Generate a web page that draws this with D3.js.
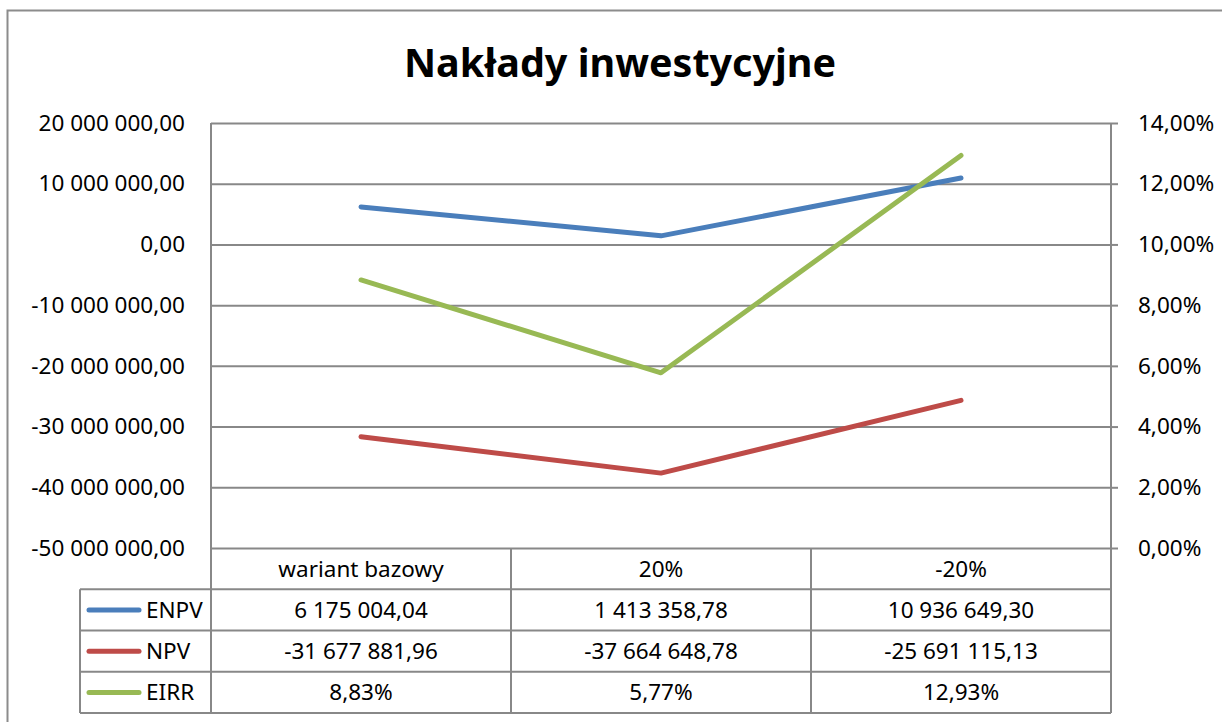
<!DOCTYPE html>
<html>
<head>
<meta charset="utf-8">
<script src="https://cdn.jsdelivr.net/npm/d3@7"></script>
<style>
  body { margin: 0; background: #fff; }
  text { font-family: "Noto Sans", "Open Sans", sans-serif; fill: #000; }
</style>
</head>
<body>
<div id="chart"></div>
<script>
// data
var categories = ["wariant bazowy", "20%", "-20%"];
var enpv = [6175004.04, 1413358.78, 10936649.30];
var npv = [-31677881.96, -37664648.78, -25691115.13];
var eirr = [0.0883, 0.0577, 0.1293];
var seriesNames = ["ENPV", "NPV", "EIRR"];
var seriesColors = ["#4a7ebb", "#be4b48", "#98b954"];
var leftTicks = [20e6, 10e6, 0, -10e6, -20e6, -30e6, -40e6, -50e6];
var rightTicks = [0, 0.02, 0.04, 0.06, 0.08, 0.10, 0.12, 0.14];

var W = 1222, H = 722;
var plot = {left: 211, right: 1111, top: 123, bottom: 548};
var tableBottom = 713, legendLeft = 80;
var gridColor = "#888";
var fs = "22.5px";

var pl = d3.formatLocale({decimal: ",", thousands: "\u00a0", grouping: [3], currency: ["", ""], minus: "-"});
var fmtNum = pl.format(",.2f");
var fmtPct = pl.format(".2%");

var svg = d3.select("#chart").append("svg")
  .attr("width", W)
  .attr("height", H);

// chart border
svg.append("rect")
  .attr("x", 7.5).attr("y", 10.5)
  .attr("width", 1240).attr("height", 740)
  .attr("fill", "none")
  .attr("stroke", "#8c8c8c")
  .attr("stroke-width", 2);

svg.append("text")
  .attr("x", 620).attr("y", 77)
  .attr("text-anchor", "middle")
  .style("font-size", "39.5px")
  .style("font-weight", "bold")
  .text("Nakłady inwestycyjne");

var x = d3.scaleBand().domain(categories).range([plot.left, plot.right]);
var cx = function(c) { return x(c) + x.bandwidth() / 2; };
var yL = d3.scaleLinear().domain([-50e6, 20e6]).range([plot.bottom, plot.top]);
var yR = d3.scaleLinear().domain([0, 0.14]).range([plot.bottom, plot.top]);

// left axis + gridlines
var gl = svg.append("g")
  .attr("transform", "translate(" + plot.left + ",0)")
  .call(d3.axisLeft(yL).tickValues(leftTicks).tickFormat(fmtNum)
    .tickSize(-(plot.right - plot.left)).tickPadding(26));
gl.select(".domain").remove();
gl.selectAll(".tick line").attr("stroke", gridColor).attr("stroke-width", 2).attr("x1", 0);
gl.selectAll(".tick line").attr("x2", plot.right - plot.left);
gl.selectAll(".tick text").style("font-size", fs).attr("fill", "#000");

// right axis
var gr = svg.append("g")
  .attr("transform", "translate(" + plot.right + ",0)")
  .call(d3.axisRight(yR).tickValues(rightTicks).tickFormat(fmtPct)
    .tickSize(7).tickPadding(20));
gr.select(".domain").remove();
gr.selectAll(".tick line").attr("stroke", gridColor).attr("stroke-width", 2);
gr.selectAll(".tick text").style("font-size", fs).attr("fill", "#000");

// data table
var rows = d3.scaleBand().domain(["cat"].concat(seriesNames)).range([plot.bottom, tableBottom]);
var table = svg.append("g").attr("stroke", gridColor).attr("stroke-width", 2);
table.append("line").attr("x1", plot.left).attr("x2", plot.left).attr("y1", plot.top).attr("y2", tableBottom);
table.append("line").attr("x1", plot.right).attr("x2", plot.right).attr("y1", plot.top).attr("y2", tableBottom);
categories.slice(1).forEach(function(c) {
  table.append("line").attr("x1", x(c)).attr("x2", x(c)).attr("y1", plot.bottom).attr("y2", tableBottom);
});
table.append("line").attr("x1", legendLeft).attr("x2", legendLeft).attr("y1", rows("ENPV")).attr("y2", tableBottom);
seriesNames.concat(["end"]).forEach(function(s) {
  var yy = s === "end" ? tableBottom : rows(s);
  table.append("line").attr("x1", legendLeft).attr("x2", plot.right).attr("y1", yy).attr("y2", yy);
});

var mid = function(r) { return rows(r) + rows.bandwidth() / 2; };
categories.forEach(function(c) {
  svg.append("text").attr("x", cx(c)).attr("y", mid("cat")).attr("dy", "0.35em")
    .attr("text-anchor", "middle").style("font-size", fs).text(c);
});

var seriesData = [
  {name: "ENPV", values: enpv, scale: yL, fmt: fmtNum},
  {name: "NPV", values: npv, scale: yL, fmt: fmtNum},
  {name: "EIRR", values: eirr, scale: yR, fmt: fmtPct}
];

seriesData.forEach(function(s, i) {
  svg.append("line")
    .attr("x1", 89).attr("x2", 139)
    .attr("y1", mid(s.name)).attr("y2", mid(s.name))
    .attr("stroke", seriesColors[i]).attr("stroke-width", 5).attr("stroke-linecap", "round");
  svg.append("text").attr("x", 146).attr("y", mid(s.name)).attr("dy", "0.35em")
    .style("font-size", fs).text(s.name);
  s.values.forEach(function(v, j) {
    svg.append("text").attr("x", cx(categories[j])).attr("y", mid(s.name)).attr("dy", "0.35em")
      .attr("text-anchor", "middle").style("font-size", fs).text(s.fmt(v));
  });
});

// lines
seriesData.forEach(function(s, i) {
  var line = d3.line()
    .x(function(d, j) { return cx(categories[j]); })
    .y(function(d) { return s.scale(d); });
  svg.append("path")
    .datum(s.values)
    .attr("d", line)
    .attr("fill", "none")
    .attr("stroke", seriesColors[i])
    .attr("stroke-width", 5)
    .attr("stroke-linejoin", "round")
    .attr("stroke-linecap", "round");
});
</script>
</body>
</html>
